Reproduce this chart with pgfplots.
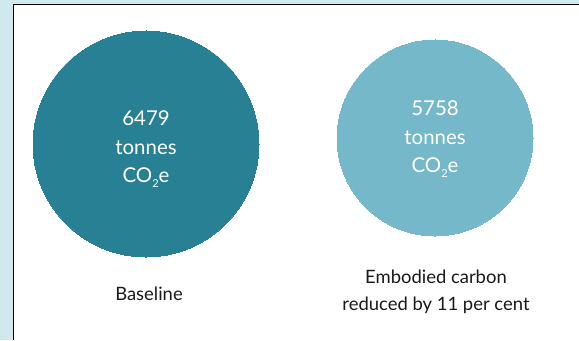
\documentclass[border=0pt]{standalone}
\usepackage{pgfplots}
\pgfplotsset{compat=1.18}
\usepackage{fontspec}
\setmainfont{Lato}
\definecolor{panelbg}{RGB}{207,233,238}
\definecolor{basecol}{RGB}{40,128,148}
\definecolor{reducedcol}{RGB}{117,184,201}
\definecolor{labeltext}{RGB}{26,26,26}
\newcommand{\COtwo}{CO\raisebox{-0.45ex}{\fontsize{11}{11}\selectfont 2}e}
\begin{document}
\begin{tikzpicture}[x=1bp,y=1bp]
\useasboundingbox (0,0) rectangle (579,340);
% panel background and frame
\fill[panelbg] (0,0) rectangle (579,340);
\fill[white] (13.5,0) rectangle (579,335.5);
\draw[black, line width=1.6bp] (13.5,0) -- (13.5,335.5) -- (579,335.5);
\begin{axis}[
  at={(0,0)}, anchor=south west,
  scale only axis, width=579bp, height=340bp,
  xmin=0, xmax=579, ymin=0, ymax=340,
  axis lines=none, clip=false,
  nodes near coords={\pgfplotspointmeta\\tonnes\\\COtwo},
  point meta=explicit symbolic,
  every node near coord/.append style={
    anchor=center, align=center, text=white,
    font=\fontsize{20.5}{28.5}\selectfont, inner sep=0pt},
]
% baseline emissions
\addplot[only marks, mark=*, mark size=113bp, color=basecol,
  mark options={draw=basecol, fill=basecol, line width=0pt},
  every node near coord/.append style={yshift=-5bp}]
  table[x=x, y=y, meta=value] {
  x   y   value
  146 196 6479
};
% emissions with embodied carbon reduced
\addplot[only marks, mark=*, mark size=98bp, color=reducedcol,
  mark options={draw=reducedcol, fill=reducedcol, line width=0pt},
  every node near coord/.append style={yshift=-1bp}]
  table[x=x, y=y, meta=value] {
  x   y   value
  435 202 5758
};
\node[text=labeltext, font=\fontsize{18.5}{26}\selectfont, align=center]
  at (axis cs:149,46) {Baseline};
\node[text=labeltext, font=\fontsize{18.5}{27}\selectfont, align=center]
  at (axis cs:436,48) {Embodied carbon\\reduced by 11 per cent};
\end{axis}
\end{tikzpicture}
\end{document}
